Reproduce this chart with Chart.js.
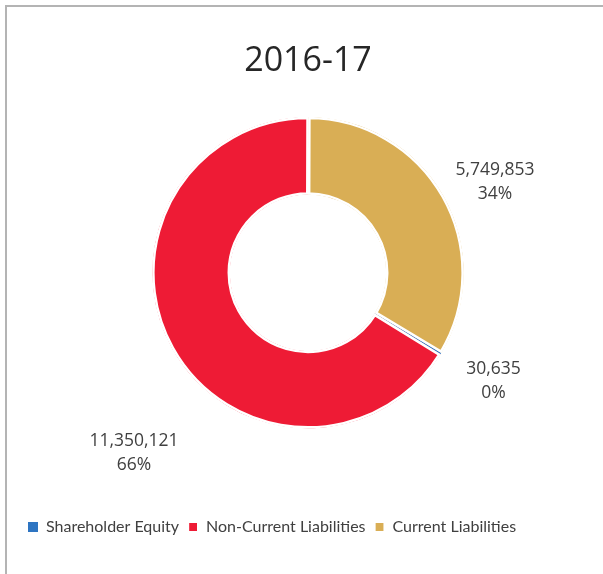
<!DOCTYPE html>
<html>
<head>
<meta charset="utf-8">
<script src="https://cdn.jsdelivr.net/npm/chart.js@4"></script>
<style>
  html, body { margin: 0; padding: 0; background: #fff; }
  #wrap { position: relative; width: 603px; height: 574px; }
  #frame {
    position: absolute; left: 5px; top: 5px; right: -10px; bottom: -10px;
    border-left: 2px solid #b4b4b4; border-top: 2px solid #b4b4b4;
    pointer-events: none;
  }
</style>
</head>
<body>
<div id="wrap">
  <canvas id="pieChart"></canvas>
  <div id="frame"></div>
</div>
<script>
var chartTitle = "2016-17";
var categories = ["Shareholder Equity", "Non-Current Liabilities", "Current Liabilities"];
var values = [30635, 11350121, 5749853];
var colors = ["#2E75C2", "#EE1B35", "#D9AE55"];

// where each data label sits: angle shift (deg) from slice middle, distance past the outer edge (px)
var labelPlacement = [
  { shift: -1, gap: 59 },
  { shift: -17, gap: 95 },
  { shift: 3.5, gap: 52 }
];

var total = values.reduce(function (a, b) { return a + b; }, 0);

var dataLabels = {
  id: "dataLabels",
  afterDatasetsDraw: function (chart) {
    var ctx = chart.ctx;
    var meta = chart.getDatasetMeta(0);
    ctx.save();
    ctx.font = "17.5px 'Open Sans', sans-serif";
    ctx.fillStyle = "#404040";
    ctx.textAlign = "center";
    ctx.textBaseline = "middle";
    meta.data.forEach(function (arc, i) {
      var p = arc.getProps(["x", "y", "startAngle", "endAngle", "outerRadius"], true);
      var mid = (p.startAngle + p.endAngle) / 2 + labelPlacement[i].shift * Math.PI / 180;
      var d = p.outerRadius + labelPlacement[i].gap;
      var x = p.x + d * Math.cos(mid);
      var y = p.y + d * Math.sin(mid);
      var pct = Math.round(values[i] / total * 100) + "%";
      ctx.fillText(values[i].toLocaleString("en-US"), x, y - 12);
      ctx.fillText(pct, x, y + 12);
    });
    ctx.restore();
  }
};

var canvas = document.getElementById("pieChart").getContext("2d");

new Chart(canvas, {
  type: "doughnut",
  data: {
    labels: categories,
    datasets: [
      {
        data: values,
        backgroundColor: colors,
        borderColor: "#ffffff",
        borderWidth: [0, 2.2, 2.2],
        borderAlign: "inner",
        hoverOffset: 0
      }
    ]
  },
  options: {
    responsive: true,
    maintainAspectRatio: false,
    animation: false,
    cutout: "50%",
    rotation: 121,
    layout: {
      padding: { top: 0, bottom: 29, left: 19, right: 6 }
    },
    plugins: {
      tooltip: { enabled: false },
      title: {
        display: true,
        text: chartTitle,
        color: "#262626",
        font: { family: "'Open Sans', sans-serif", size: 34, weight: "normal" },
        padding: { top: 41, bottom: 35 }
      },
      legend: {
        position: "bottom",
        align: "start",
        title: {
          display: true,
          text: " ",
          font: { size: 12 },
          padding: 33.5
        },
        labels: {
          boxWidth: 10,
          boxHeight: 10,
          padding: 9,
          color: "#404040",
          font: { family: "Lato, sans-serif", size: 16 }
        }
      }
    }
  },
  plugins: [dataLabels]
});
</script>
</body>
</html>
